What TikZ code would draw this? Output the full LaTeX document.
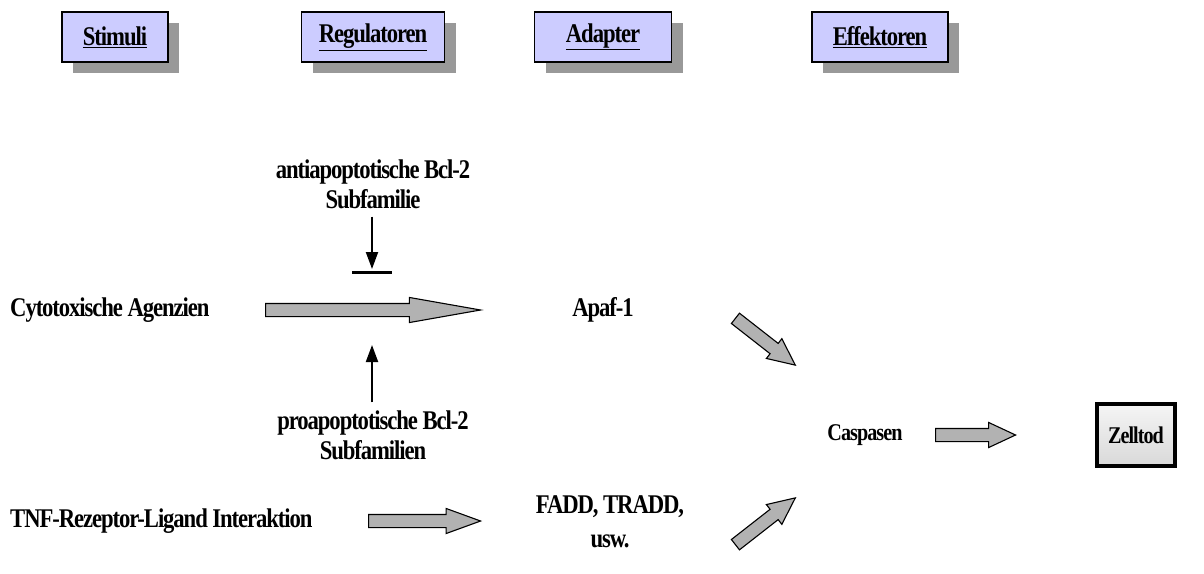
\documentclass[tikz,border=0pt]{standalone}
\usepackage{fontspec}
\setmainfont{Liberation Serif}[FakeStretch=0.84, LetterSpace=-4]
\usetikzlibrary{%
    arrows.meta,
    positioning,
    calc,
    shadows,
    shapes.arrows
}
\definecolor{headblue}{HTML}{CCCCFF}
\definecolor{arrowgray}{HTML}{B2B2B2}

\begin{document}
\begin{tikzpicture}[x=1pt, y=-1pt,
    lbl/.style={font=\bfseries\fontsize{27}{30}\selectfont, align=center, inner sep=0pt},
    small/.style={lbl, font=\bfseries\fontsize{24}{28}\selectfont},
    head/.style={lbl, draw, line width=1.2pt, fill=headblue, minimum height=50pt,
      drop shadow={shadow xshift=11pt, shadow yshift=-11pt, fill=black!40, opacity=1}},
    blk/.style={single arrow, draw, line width=1.1pt, fill=arrowgray, inner xsep=0pt,
      inner ysep=6pt, single arrow head extend=6pt, single arrow head indent=0pt, anchor=tail},
    thin/.style={line width=2pt, -{Triangle[length=17pt, width=12pt]}}]
      \useasboundingbox (0,0) rectangle (1204,573);

      \node[head, minimum width=106pt] (stimuli) at (115,37) {\underline{Stimuli}};
      \node[head, minimum width=143pt] (regul) at (373,37) {\underline{Regulatoren}};
      \node[head, minimum width=137pt] (adapt) at (603,37) {\underline{Adapter}};
      \node[head, minimum width=136pt] (effekt) at (880,37) {\underline{Effektoren}};

      \node[lbl, anchor=west] (cyto) at (10,310) {Cytotoxische Agenzien};
      \node[lbl] (apaf) at (603,310) {Apaf-1};
      \node[lbl] (anti) at (373,184) {antiapoptotische Bcl-2\\Subfamilie};
      \node[lbl] (pro) at (373,435) {proapoptotische Bcl-2\\Subfamilien};
      \node[lbl, anchor=west] (tnf) at (10,521) {TNF-Rezeptor-Ligand Interaktion};
      \node[lbl] (fadd) at (610,522) {FADD, TRADD,\\[4pt]usw.};
      \node[small] (casp) at (865,435) {Caspasen};
      \node[small, draw, line width=4pt, minimum width=78pt, minimum height=62pt,
        top color=gray!8, bottom color=gray!30] (tod) at (1136,435) {Zelltod};

      \node[blk, minimum height=215pt, single arrow tip angle=20] (a_cyto) at (265,310) {};
      \node[blk, minimum height=112pt, single arrow tip angle=40] (a_tnf) at (368,521) {};
      \node[blk, minimum height=80pt, single arrow tip angle=50] (a_casp) at (935,435) {};
      \node[blk, minimum height=76pt, single arrow tip angle=50, rotate=-38] (a_apaf) at (735,318) {};
      \node[blk, minimum height=76pt, single arrow tip angle=50, rotate=38] (a_fadd) at (735,545) {};

      \coordinate (bar) at (372,272);
      \coordinate (up) at (372,345);
      \draw[thin] ($(anti.south -| bar)+(0,8)$) -- ($(bar)+(0,-3)$);
      \draw[line width=3pt] ($(bar)+(-20,0)$) -- ($(bar)+(20,0)$);
      \draw[thin] ($(pro.north -| up)+(0,-8)$) -- (up);
    \end{tikzpicture}
\end{document}
